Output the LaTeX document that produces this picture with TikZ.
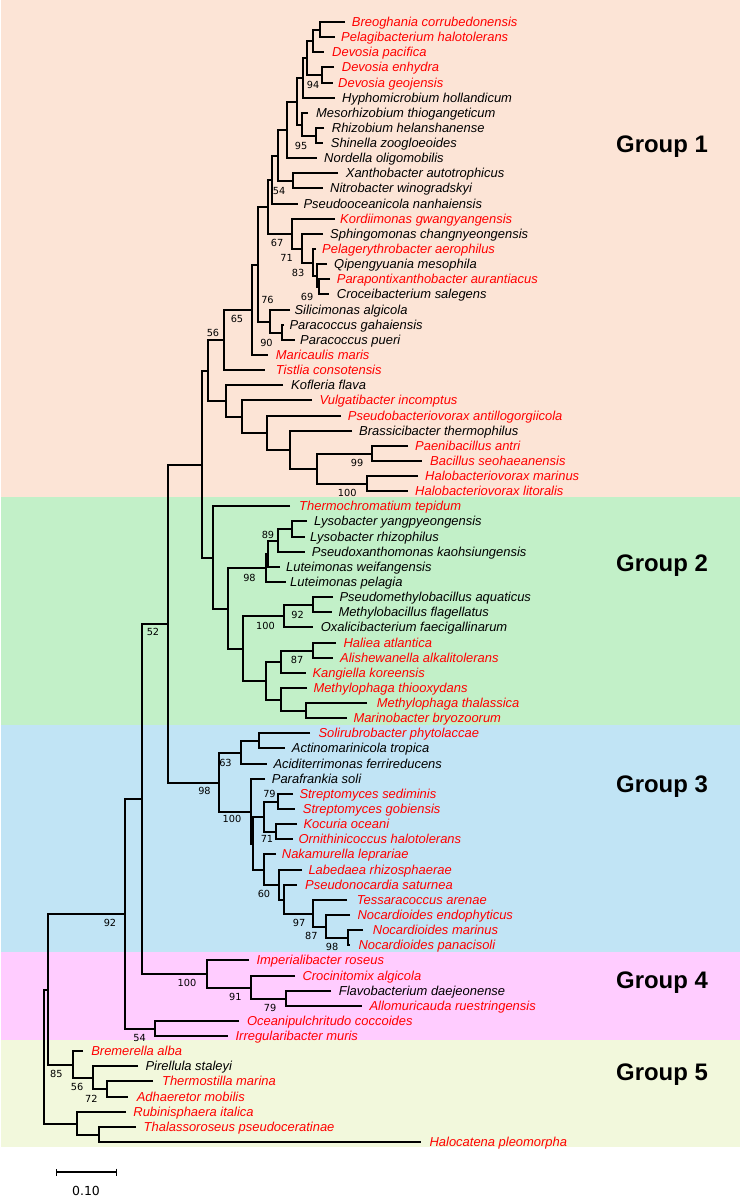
\documentclass[tikz,border=0pt]{standalone}
\usepackage{fontspec}
\setmainfont{Liberation Sans}
\newfontfamily\bsfont{DejaVu Sans}
\usetikzlibrary{calc,arrows.meta}
\definecolor{gone}{RGB}{252,228,214}
\definecolor{gtwo}{RGB}{194,240,200}
\definecolor{gthree}{RGB}{193,228,245}
\definecolor{gfour}{RGB}{255,204,255}
\definecolor{gfive}{RGB}{242,248,220}
\definecolor{tred}{RGB}{255,0,0}
% leaf: id, index, tip x, text x, colour, name
\newcommand\lf[6]{%
  \coordinate (#1) at ({round(#3)},{round(22+(#2-1)*15.135)});
  \node[sp,text=#5,anchor=west] (#1t) at (#4,{round(22+(#2-1)*15.135)}) {#6};}
% internal node: id, x, child A, child B
\newcommand\nd[4]{%
  \path let \p1=(#3), \p2=(#4) in coordinate (#1) at ({round(#2)*1bp},{round((0.5*\y1+0.5*\y2)/1bp)*1bp});
  \draw[br] (#3) -| (#1) |- (#4);}
\newcommand\bsl[3]{\node[bs] (#1) at (#2) {#3};}
\begin{document}
\begin{tikzpicture}[x=1bp,y=-1bp,
  br/.style={line width=2bp,line join=miter},
  sp/.style={font=\fontsize{13}{13}\selectfont\itshape,inner sep=0pt,text height=9.3pt,text depth=0pt},
  bs/.style={font=\bsfont\fontsize{9.8}{9.8}\selectfont,inner sep=0pt,text=black},
  grp/.style={font=\fontsize{24}{24}\selectfont\bfseries,inner sep=0pt}]
\useasboundingbox (0,0) rectangle (741,1199);
% group bands
\fill[gone] (1.5,0) rectangle (740,497);
\fill[gtwo] (1.5,497) rectangle (740,725);
\fill[gthree] (1.5,725) rectangle (740,952);
\fill[gfour] (1.5,952) rectangle (740,1040);
\fill[gfive] (1.5,1040) rectangle (740,1147);
\node[grp] (g1) at (662,147) {Group 1};
\node[grp] (g2) at (662,566) {Group 2};
\node[grp] (g3) at (662,787) {Group 3};
\node[grp] (g4) at (662,983) {Group 4};
\node[grp] (g5) at (662,1075) {Group 5};
% leaves
\lf{L1}{1}{345}{351.7}{tred}{Breoghania corrubedonensis}
\lf{L2}{2}{335}{341}{tred}{Pelagibacterium halotolerans}
\lf{L3}{3}{324}{332}{tred}{Devosia pacifica}
\lf{L4}{4}{334}{341.7}{tred}{Devosia enhydra}
\lf{L5}{5}{333}{338}{tred}{Devosia geojensis}
\lf{L6}{6}{335}{342}{black}{Hyphomicrobium hollandicum}
\lf{L7}{7}{308.3}{316}{black}{Mesorhizobium thiogangeticum}
\lf{L8}{8}{324.3}{331.7}{black}{Rhizobium helanshanense}
\lf{L9}{9}{323.3}{330.7}{black}{Shinella zoogloeoides}
\lf{L10}{10}{316.7}{324}{black}{Nordella oligomobilis}
\lf{L11}{11}{338.3}{345.7}{black}{Xanthobacter autotrophicus}
\lf{L12}{12}{323.3}{330}{black}{Nitrobacter winogradskyi}
\lf{L13}{13}{298.3}{303.3}{black}{Pseudooceanicola nanhaiensis}
\lf{L14}{14}{335}{340}{tred}{Kordiimonas gwangyangensis}
\lf{L15}{15}{323.3}{330}{black}{Sphingomonas changnyeongensis}
\lf{L16}{16}{316}{322}{tred}{Pelagerythrobacter aerophilus}
\lf{L17}{17}{326.7}{334}{black}{Qipengyuania mesophila}
\lf{L18}{18}{330}{336.7}{tred}{Parapontixanthobacter aurantiacus}
\lf{L19}{19}{329.3}{336.7}{black}{Croceibacterium salegens}
\lf{L20}{20}{290}{294.3}{black}{Silicimonas algicola}
\lf{L21}{21}{284}{289.3}{black}{Paracoccus gahaiensis}
\lf{L22}{22}{295}{300}{black}{Paracoccus pueri}
\lf{L23}{23}{268.3}{275.7}{tred}{Maricaulis maris}
\lf{L24}{24}{265}{275.7}{tred}{Tistlia consotensis}
\lf{L25}{25}{283.3}{291}{black}{Kofleria flava}
\lf{L26}{26}{311.7}{319.3}{tred}{Vulgatibacter incomptus}
\lf{L27}{27}{341}{347.7}{tred}{Pseudobacteriovorax antillogorgiicola}
\lf{L28}{28}{352.3}{359}{black}{Brassicibacter thermophilus}
\lf{L29}{29}{407.7}{415}{tred}{Paenibacillus antri}
\lf{L30}{30}{421.7}{430}{tred}{Bacillus seohaeanensis}
\lf{L31}{31}{418.3}{425}{tred}{Halobacteriovorax marinus}
\lf{L32}{32}{407.7}{415}{tred}{Halobacteriovorax litoralis}
\lf{L33}{33}{290}{299}{tred}{Thermochromatium tepidum}
\lf{L34}{34}{306.7}{314}{black}{Lysobacter yangpyeongensis}
\lf{L35}{35}{305}{310}{black}{Lysobacter rhizophilus}
\lf{L36}{36}{305}{311.7}{black}{Pseudoxanthomonas kaohsiungensis}
\lf{L37}{37}{280}{286}{black}{Luteimonas weifangensis}
\lf{L38}{38}{286}{290}{black}{Luteimonas pelagia}
\lf{L39}{39}{333.3}{339.3}{black}{Pseudomethylobacillus aquaticus}
\lf{L40}{40}{331.7}{338.3}{black}{Methylobacillus flagellatus}
\lf{L41}{41}{313.3}{320.7}{black}{Oxalicibacterium faecigallinarum}
\lf{L42}{42}{336}{343.3}{tred}{Haliea atlantica}
\lf{L43}{43}{333.3}{340}{tred}{Alishewanella alkalitolerans}
\lf{L44}{44}{306}{312.3}{tred}{Kangiella koreensis}
\lf{L45}{45}{306.7}{313.3}{tred}{Methylophaga thiooxydans}
\lf{L46}{46}{366.7}{376.7}{tred}{Methylophaga thalassica}
\lf{L47}{47}{346.7}{353.3}{tred}{Marinobacter bryozoorum}
\lf{L48}{48}{310}{318.3}{tred}{Solirubrobacter phytolaccae}
\lf{L49}{49}{285}{291.7}{black}{Actinomarinicola tropica}
\lf{L50}{50}{266.7}{273.3}{black}{Aciditerrimonas ferrireducens}
\lf{L51}{51}{265}{271.7}{black}{Parafrankia soli}
\lf{L52}{52}{293.3}{299.3}{tred}{Streptomyces sediminis}
\lf{L53}{53}{295}{302.7}{tred}{Streptomyces gobiensis}
\lf{L54}{54}{296.7}{303.3}{tred}{Kocuria oceani}
\lf{L55}{55}{293.3}{298.3}{tred}{Ornithinicoccus halotolerans}
\lf{L56}{56}{276}{281.7}{tred}{Nakamurella leprariae}
\lf{L57}{57}{301.7}{308.3}{tred}{Labedaea rhizosphaerae}
\lf{L58}{58}{296.7}{305}{tred}{Pseudonocardia saturnea}
\lf{L59}{59}{346.7}{356.7}{tred}{Tessaracoccus arenae}
\lf{L60}{60}{350}{357.3}{tred}{Nocardioides endophyticus}
\lf{L61}{61}{363.3}{372.7}{tred}{Nocardioides marinus}
\lf{L62}{62}{350}{358.3}{tred}{Nocardioides panacisoli}
\lf{L63}{63}{248.8}{256.4}{tred}{Imperialibacter roseus}
\lf{L64}{64}{294.7}{302.3}{tred}{Crocinitomix algicola}
\lf{L65}{65}{331}{338.7}{black}{Flavobacterium daejeonense}
\lf{L66}{66}{361.6}{369.3}{tred}{Allomuricauda ruestringensis}
\lf{L67}{67}{239.2}{246.8}{tred}{Oceanipulchritudo coccoides}
\lf{L68}{68}{227.7}{235.4}{tred}{Irregularibacter muris}
\lf{L69}{69}{83.4}{91.1}{tred}{Bremerella alba}
\lf{L70}{70}{137.8}{145.4}{black}{Pirellula staleyi}
\lf{L71}{71}{153}{161.9}{tred}{Thermostilla marina}
\lf{L72}{72}{128.2}{136.6}{tred}{Adhaeretor mobilis}
\lf{L73}{73}{125.5}{133.2}{tred}{Rubinisphaera italica}
\lf{L74}{74}{135.9}{143.5}{tred}{Thalassoroseus pseudoceratinae}
\lf{L75}{75}{421}{429.4}{tred}{Halocatena pleomorpha}
% group 1
\nd{n1}{320}{L1}{L2}
\nd{n2}{313}{n1}{L3}
\nd{nDe}{321.7}{L4}{L5}
\nd{n3}{306.7}{n2}{nDe}
\nd{n4}{303.3}{n3}{L6}
\nd{nRS}{316}{L8}{L9}
\nd{nMe}{301.7}{L7}{nRS}
\nd{n5}{296.7}{n4}{nMe}
\nd{n6}{287.3}{n5}{L10}
\nd{nXN}{293.3}{L11}{L12}
\nd{n7}{277.7}{n6}{nXN}
\nd{n8}{272.3}{n7}{L13}
\nd{nPC}{319.3}{L18}{L19}
\nd{nQ}{316.7}{L17}{nPC}
\nd{nE}{313.3}{L16}{nQ}
\nd{nS}{301.7}{L15}{nE}
\nd{nK}{291.7}{L14}{nS}
\nd{n9}{268.3}{n8}{nK}
\nd{nPa}{281.7}{L21}{L22}
\nd{nSi}{270}{L20}{nPa}
\nd{nX}{257.7}{n9}{nSi}
\nd{nM}{252.3}{nX}{L23}
\nd{nT}{224.3}{nM}{L24}
\nd{nPae}{372.3}{L29}{L30}
\nd{nHa}{366.7}{L31}{L32}
\nd{nPH}{316.7}{nPae}{nHa}
\nd{nBr}{290}{L28}{nPH}
\nd{nPs}{266.7}{L27}{nBr}
\nd{nVu}{241.7}{L26}{nPs}
\nd{nKo}{226}{L25}{nVu}
\nd{nGa}{208.3}{nT}{nKo}
% group 2
\nd{nLy}{292.3}{L34}{L35}
\nd{nLP}{278.3}{nLy}{L36}
\nd{nLW}{268.3}{nLP}{L37}
\nd{nLC}{266}{nLW}{L38}
\nd{nMB}{312.7}{L39}{L40}
\nd{nMO}{284.3}{nMB}{L41}
\nd{nHA}{312.7}{L42}{L43}
\nd{nHK}{280.7}{nHA}{L44}
\nd{nMM}{306}{L46}{L47}
\nd{nMT}{280.7}{L45}{nMM}
\nd{nHC}{266}{nHK}{nMT}
\nd{nGc}{243.3}{nMO}{nHC}
\nd{nGb}{228.3}{nLC}{nGc}
\nd{nGtwo}{212.5}{L33}{nGb}
\nd{nGot}{201.7}{nGa}{nGtwo}
% group 3
\nd{nSA}{259.3}{L48}{L49}
\nd{nGta}{240.7}{nSA}{L50}
\nd{nSt}{278.3}{L52}{L53}
\nd{nKc}{276}{L54}{L55}
\nd{nSK}{264.3}{nSt}{nKc}
\nd{nNM}{347.7}{L61}{L62}
\nd{nN}{325.7}{L60}{nNM}
\nd{nTt}{313.3}{L59}{nN}
\nd{nP}{284.3}{L58}{nTt}
\nd{nL}{279.3}{L57}{nP}
\nd{nNa}{264.3}{L56}{nL}
\nd{nY}{253.3}{nSK}{nNa}
\nd{nGtb}{251}{L51}{nY}
\nd{nGthree}{219.3}{nGta}{nGtb}
\nd{nGott}{167.7}{nGot}{nGthree}
% group 4
\nd{nF}{286.3}{L65}{L66}
\nd{nC}{250.7}{L64}{nF}
\nd{nI}{206.7}{L63}{nC}
\nd{nGf}{142.3}{nGott}{nI}
\nd{nOI}{155}{L67}{L68}
\nd{nB}{125}{nGf}{nOI}
% group 5
\nd{nTA}{107.2}{L71}{L72}
\nd{nPT}{92.6}{L70}{nTA}
\nd{nBf}{72.7}{L69}{nPT}
\nd{nA}{48.3}{nB}{nBf}
\nd{nTH}{98.7}{L74}{L75}
\nd{nRu}{76.5}{L73}{nTH}
\nd{nRoot}{44.3}{nA}{nRu}
% bootstrap values
\bsl{b1}{313,85}{94}
\bsl{b2}{301,146}{95}
\bsl{b3}{279,191}{54}
\bsl{b4}{277,243}{67}
\bsl{b5}{286.5,258}{71}
\bsl{b6}{298,272.7}{83}
\bsl{b7}{307,296.7}{69}
\bsl{b8}{267.5,300}{76}
\bsl{b9}{237,319}{65}
\bsl{b10}{213,333}{56}
\bsl{b11}{266.5,342.7}{90}
\bsl{b12}{357,463.3}{99}
\bsl{b13}{347.3,493.3}{100}
\bsl{b14}{268,535}{89}
\bsl{b15}{249.5,577.7}{98}
\bsl{b16}{297.5,615}{92}
\bsl{b17}{265.5,626}{100}
\bsl{b18}{153,632}{52}
\bsl{b19}{297,660}{87}
\bsl{b20}{225.5,762.7}{63}
\bsl{b21}{204.5,791}{98}
\bsl{b22}{269.5,794}{79}
\bsl{b23}{232,819.3}{100}
\bsl{b24}{267,839.3}{71}
\bsl{b25}{264,894}{60}
\bsl{b26}{299,922.7}{97}
\bsl{b27}{110,922.7}{92}
\bsl{b28}{311.3,936}{87}
\bsl{b29}{332,947.3}{98}
\bsl{b30}{187,983.3}{100}
\bsl{b31}{235.4,996.7}{91}
\bsl{b32}{270,1008.3}{79}
\bsl{b33}{139.7,1037.7}{54}
\bsl{b34}{56.3,1074}{85}
\bsl{b35}{77.1,1086.7}{56}
\bsl{b36}{91.3,1099.3}{72}
% scale bar
\coordinate (sba) at (56,1172);
\coordinate (sbb) at (117,1172);
\draw[line width=1.3bp,{Bar[width=7pt]}-{Bar[width=7pt]}] (sba) -- (sbb);
\node[font=\bsfont\fontsize{12.5}{12.5}\selectfont,inner sep=0pt] (sbl) at (86,1191) {0.10};
\end{tikzpicture}
\end{document}
